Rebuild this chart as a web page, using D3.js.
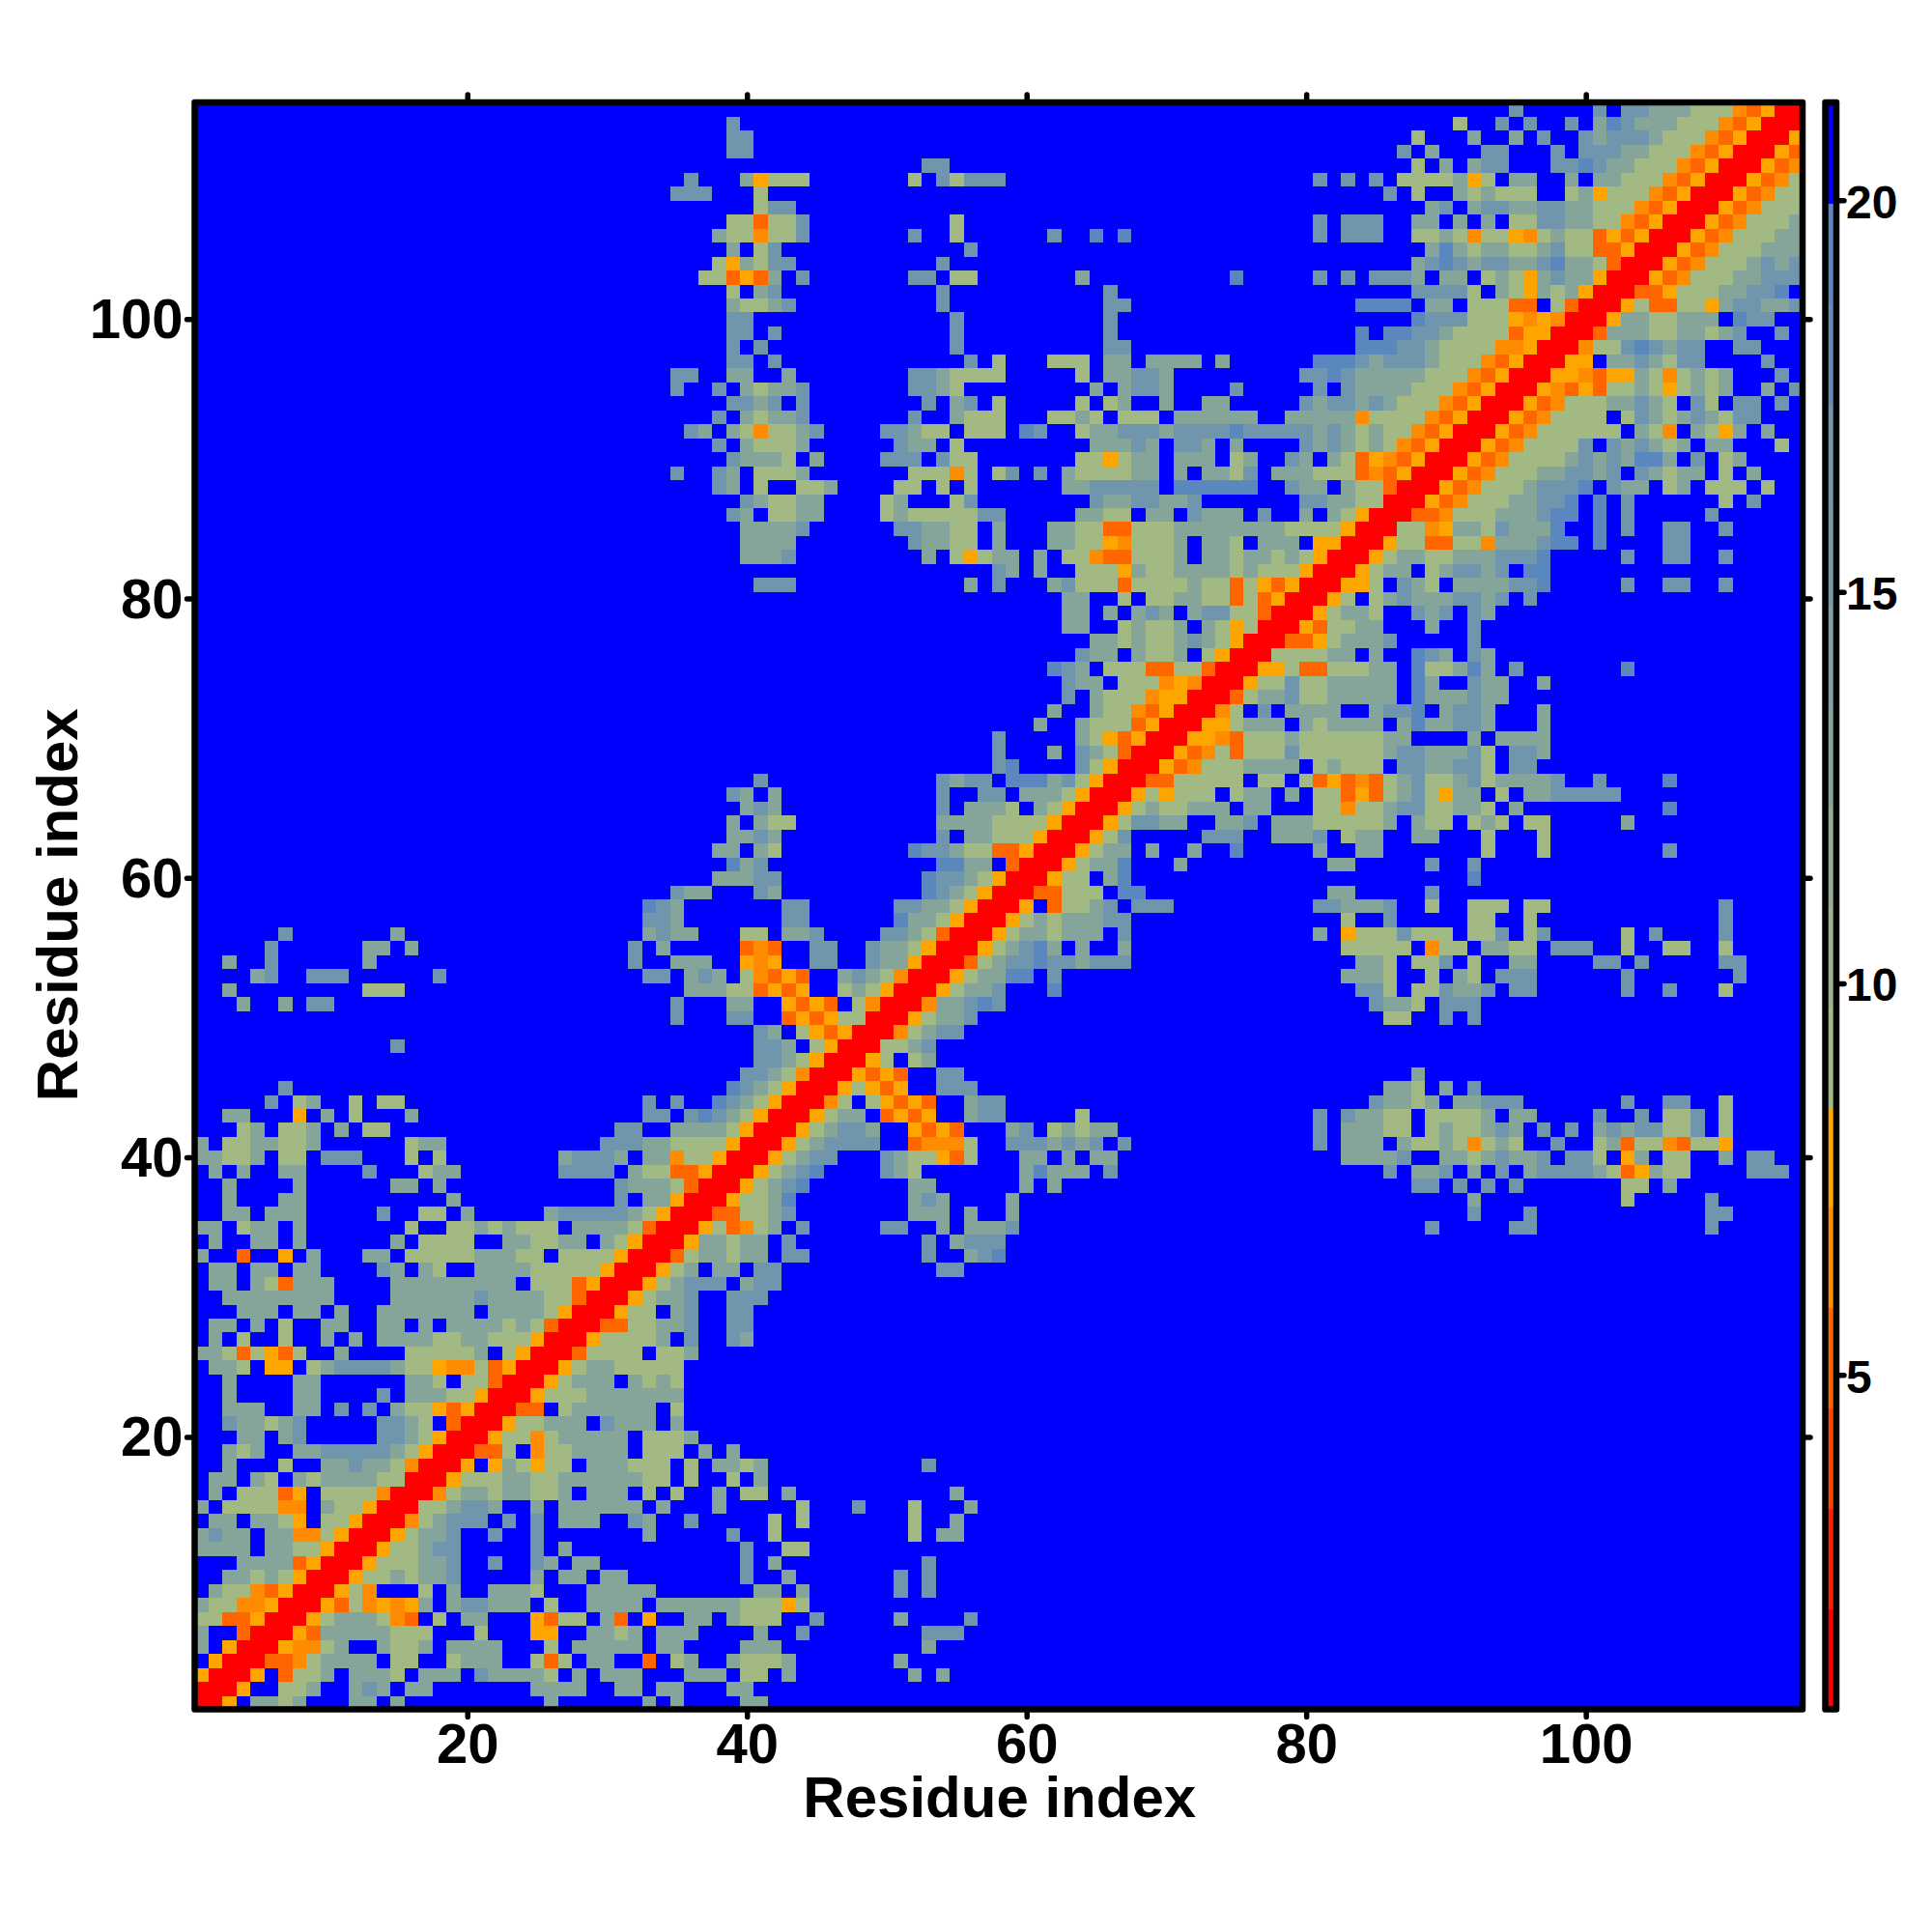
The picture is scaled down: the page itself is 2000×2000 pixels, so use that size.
<!DOCTYPE html>
<html><head><meta charset="utf-8">
<script src="https://cdn.jsdelivr.net/npm/d3@7"></script>
<style>html,body{margin:0;background:#fff}text{font-family:"Liberation Sans",Arial,sans-serif;font-weight:bold;fill:#000}</style>
</head><body><div id="chart"></div>
<script>
const residues = d3.range(1, 116);
const axisTicks = [20, 40, 60, 80, 100];
const barTicks = [5, 10, 15, 20];
const axisTitle = "Residue index";
const barBreaks = [2.01,3.29,4.58,5.86,7.14,8.42,9.70,10.99,12.27,13.55,14.83,16.11,17.4,18.68,19.96];
const barColors = ["#ff0000","#ff2200","#ff4400","#ff6600","#ff8c00","#ffa500","#a2b983","#9ab487","#91ad91","#86a59a","#7ea0a0","#759aa7","#6f96ad","#638db6","#5a87be","#0000ff"];
const barDomain = [0.73, 21.25];
const letterValues = {r:1.4, o:5.2, n:6.5, y:7.8, g:9.1, m:12.9, s:16.8, t:19.3, ".":21};
// each row: residue index on the y axis = position + 1; tokens "startX:letters"; the map is symmetric
const lowerRows = [
"1:r","1:rr","1:yrr","1:.yrr","1:m.yrr","1:m..orr","1:ggooyrr","1:mggnnyrr","1:.mggnoyrr","1:..mmgmgyrr",
"1:...mmmmoyrr","1:mmmm.mmggyrr","1:msmm.mmnngyrr","1:.mm.mmgy.ggyrr","1:m.ggggnn.mggyrr","1:.m.gggoy.ggggnrr",
"1:.mm.mg.mgmmmmggrr","1:..m...g..mmsmmgnrr","1:..mgm..mmsssssmgyrr","1:...mm.ms.....ssmgyrr","1:..smmgms.....ssmg.orr",
"1:..mmm..mm.s.s.mggyoyrr","1:..m....mm....s.mmmggyrr","1:..m....mm......mmg.ggorr","1:.mmg.yy.gmssssmggynngoyrr",
"1:mmgogyog..m....gggggm.gyrr","1:.m.g..g..m.m.mmmmggmmgggyrr","1:.mm.m.g..mm..mm.m.mmmmgmgorr",
"1:...mmm.mm.m..mmmmmmm.mmmmgyrr","1:..mmmmmmmm....mmmmmmsmmmmggorr","1:.mm.mgommm....mmmmmmmmm.gggoyrr",
"1:.mm.mm.mm....sm.mg..mmmmgggggyrr","1:m..o..y.m...mm.gggggmmmgg.ggggyrr","1:.m..mm.m......m.gggg..mmggmm.mgyrr",
"1:mm.gmm.m.......g..ggmgmggg.mmmmgorr","1:..mm.mmm.....s..gg.m.....msssssmgyrr","1:..m...mm..........m...........s.mmyrr",
"1:..m....m......mm.m............smmmgorr","1:.m.m..mm....s...gmm.......ssss.mggooyrr","1:mmggm.gg.sss...g.g........msssm.mmnggyrr",
"1:m.ggmmggm......gmm...........sssmmggggyrr","1:...gm.ggm.m.gg................ss..mmmmgyrr",
"1:..mm...y.m.g...m................ss.stsmgyrr","1:.....s.gm..g.gg.................s.s..tsmgyrr",
"7:s 39:tsmgyrr","40:ssmgnrr","41:ssmgyrr","15:s 41:ssm.gyrr","41:sm.gyoyrr","35:s 39:ss 43:oyoyggrr",
"4:m 7:m 9:ss 35:s 39:mm 43:yoyo.gnrr","3:m 13:ggg 36:mmmgg 41:oyoy 47:gmgyrr","5:ms 9:sss 18:s 33:ss 36:msm 40:gnoyo 47:msmgnrr",
"3:m 6:s 13:m 32:s 35:mmm 40:yny 45:ss 49:smmyrr","6:s 13:mm 16:m 32:s 34:m 40:ono 45:ss 49:smmgyrr",
"7:s 15:m 33:msmm 40:gg 43:mms 50:ssmgorr","33:ssm 43:ss 51:tmmgyrr","33:tsm 43:ss 51:ssmmgyrr","35:smm 41:sm 53:tsmgyrr",
"38:mmmss 53:tssmgyrr","39:tms 54:ttmm.orr","38:mm 41:mg 52:tssmggooyrr","39:mmsm 54:s.mmgggyrr","39:m.mgg 54:mmmmggggyrr",
"40:msm 54:s.mmmg.mgyrr","39:sm.m 54:s 57:ss 60:mmmgyrr","41:s 54:smss 59:tttmsgyrr","58:st 64:sgyrr","58:s 62:m 64:smgorr",
"58:s 64:mgyoyrr","61:m 64:mgggoyrr","62:m 65:mggnoyrr","63:s 65:mgggnyyrr","63:smm.gggnynrr","62:tsm.gggooggorr",
"64:smm.mggm.gyrr","65:mmgmggmsmgyrr","63:mm 67:gmggm.mgygrr","63:mm 66:m 68:msm 72:mssggorr","63:mm 67:g 69:ggmmggogoyrr",
"41:sss 56:m 58:s 62:msgggoggggmggogyoyrr","58:sm 61:m 64:gggymggmmmmgmgggyrr",
"40:mmms 53:m 55:gygmm 61:m 63:ggnoo 68:ggg 71:m 73:mm 75:g 76:mmgmgyrr",
"40:mmmm 52:smmgg 58:m 62:mmggyn 68:gggm 73:mmg 77:mmm.yyrr",
"40:mmmms 51:ssmmgg 58:m 62:mmggoo 68:ggg 71:mmmmm 76:mmmggggyrr",
"39:sm 42:ggmm 50:gm 52:ggggg 57:ss 64:mmgg 69:mm 72:smmm 77:s 80:m 82:mgyrr",
"40:sm 42:ggmm 50:gm 55:gs 65:smmss 70:mms 80:ssmmggrr",
"38:sm 41:g 44:ggm 51:gg 54:g 56:g 63:mmsssss 71:tttttt 79:smm.mggorr",
"35:s 38:sm 41:gggm 52:gggng 58:gs 61:s 63:mgggg 68:mm 71:m 73:mmgs 78:mmmgggonoyrr",
"39:smmmg 45:m 50:sss 54:sgg 64:ggyg 68:mm 71:mmm 75:gm 79:sm 82:mgoynoyrr",
"38:s 40:mgggm 51:smm 55:g 65:mmmsm 71:ssm 75:m 80:smsmgmgnoyrr",
"36:sm 39:mgnggms 50:ssmgg 56:ggg 60:ts 64:gmmsssmsssstsssssmsmgmggnoyrr",
"38:s 40:mgmms 52:s 55:mggg 62:ggmg 67:ggg 71:mmmmmm 79:mmmmmnggggnoyrr",
"39:ssms.s 53:s 55:ms 58:g 64:g 66:gm 70:m 73:mm 80:smssmsmgggnoyrr",
"35:s 38:s 40:mgmms 52:ssmg 65:m 67:mssm 75:s 81:s 83:smmmmgggnoyrr",
"35:ss 39:mm 43:m 52:ssmgggg 64:g 66:mmssm 80:sstsmmmmmgggnoyrr",
"39:ss 42:s 56:s 58:g 62:ggg 66:mm 69:mmmm 74:m 81:tttsmsssmgggnoyrr",
"39:s 41:s 55:s 66:ss 84:tttssmggggnnyrr",
"39:ss 42:s 55:s 66:s 84:t 86:ttssmggggoyyrr",
"39:ss 55:s 66:s 88:tsssgggynynrr",
"39:mggms 54:s 66:ss 84:tttt 89:mm 92:gggoo 98:gorr",
"39:g 41:ms 54:s 66:s 88:ssssg 94:mgymgmyrr",
"37:ggoyom.s 52:ss 55:gg 64:m 75:t 81:s 83:s 85:sssm 90:mm 93:gmgymsmmyrr",
"38:gymgss 54:s 88:ms 90:ts 92:mssmmstmmgorr",
"39:m.gs 56:s 89:mtmgmmggmsggooyrr",
"38:mggnggs 52:s 55:g 62:s 65:t 67:t 81:s 83:sss 88:ggmgnggyngmggoyoyrr",
"39:ggoggs 55:g 81:s 83:sss 88:mm 91:m 93:m 95:ggssmmggnoyrr",
"41:gss 89:ms 92:mssmmssmmgggnoyrr",
"35:sss 41:g 86:s 88:g 91:mgmggg 99:gmygggnoyrr",
"36:s 40:myggg 52:g 54:sgsss 81:s 83:s 85:s 87:ggggmyg 95:mm 99:m 101:mmgggnoyrr",
"53:ss 88:g 90:m 92:mss 98:sstsmmgggnoyrr",
"39:ss 87:s 89:m 93:ss 98:s 100:sssmmgggnoyrr",
"39:ss 88:g 92:m 95:m 97:s 100:smsssmgggnoyrr",
"39:s 91:g 94:s 96:s 99:s 101:mtsmmmgggnoyrr",
"95:s 101:s 103:ssmmmgggnoyrr"
];

const matrix = residues.map(() => residues.map(() => letterValues["."]));
lowerRows.forEach((row, yi) => {
  row.split(" ").forEach(tok => {
    const [start, letters] = tok.split(":");
    [...letters].forEach((c, k) => {
      const xi = +start - 1 + k;
      const v = letterValues[c];
      matrix[yi][xi] = v;
      matrix[xi][yi] = v;
    });
  });
});
const cells = [];
residues.forEach((y, yi) => residues.forEach((x, xi) => cells.push({x, y, v: matrix[yi][xi]})));

const svg = d3.select("#chart").append("svg").attr("width", 2000).attr("height", 2000).style("display", "block");
const L = 201.5, R = 1866, T = 106, B = 1769.5;
const x = d3.scaleLinear().domain([0.5, 115.5]).range([L, R]);
const y = d3.scaleLinear().domain([0.5, 115.5]).range([B, T]);
const color = d3.scaleThreshold().domain(barBreaks).range(barColors);

svg.append("g").attr("shape-rendering", "crispEdges").selectAll("rect").data(cells).join("rect")
  .attr("x", d => x(d.x - 0.5)).attr("y", d => y(d.y + 0.5))
  .attr("width", d => x(d.x + 0.5) - x(d.x - 0.5) + 0.5)
  .attr("height", d => y(d.y - 0.5) - y(d.y + 0.5) + 0.5)
  .attr("fill", d => color(d.v));

function styleAxis(g, size, dy) {
  g.select(".domain").remove();
  g.selectAll(".tick line").attr("stroke", "#000").attr("stroke-width", 5.5).attr("stroke-linecap", "round");
  g.selectAll(".tick text").style("font-size", size + "px").attr("transform", `translate(0,${dy || 0})`);
}
const fmt = d3.format("d");
svg.append("g").attr("transform", `translate(0,${B})`)
  .call(d3.axisBottom(x).tickValues(axisTicks).tickFormat(fmt).tickSize(8).tickPadding(6))
  .call(styleAxis, 58);
svg.append("g").attr("transform", `translate(${L},0)`)
  .call(d3.axisLeft(y).tickValues(axisTicks).tickFormat(fmt).tickSize(8).tickPadding(4))
  .call(styleAxis, 58, 1);
svg.append("g").attr("transform", `translate(0,${T})`)
  .call(d3.axisTop(x).tickValues(axisTicks).tickFormat("").tickSize(8)).call(styleAxis, 58);
svg.append("g").attr("transform", `translate(${R},0)`)
  .call(d3.axisRight(y).tickValues(axisTicks).tickFormat("").tickSize(8)).call(styleAxis, 58);

svg.append("rect").attr("x", L).attr("y", T).attr("width", R - L).attr("height", B - T)
  .attr("fill", "none").attr("stroke", "#000").attr("stroke-width", 6.5).attr("stroke-linejoin", "round");

svg.append("text").attr("x", (L + R) / 2 + 1).attr("y", 1881).attr("text-anchor", "middle").style("font-size", "60px").text(axisTitle);
svg.append("text").attr("transform", `translate(80,${(T + B) / 2 - 1}) rotate(-90)`).attr("text-anchor", "middle").style("font-size", "60px").text(axisTitle);

// colour bar
const barY = d3.scaleLinear().domain(barDomain).range([B, T]);
const barEdges = [barDomain[0], ...barBreaks, barDomain[1]];
const BL = 1889.5, BR = 1901;
svg.append("g").attr("shape-rendering", "crispEdges").selectAll("rect").data(barColors).join("rect")
  .attr("x", BL).attr("width", BR - BL)
  .attr("y", (d, i) => barY(barEdges[i + 1]))
  .attr("height", (d, i) => barY(barEdges[i]) - barY(barEdges[i + 1]) + 0.5)
  .attr("fill", d => d);
svg.append("rect").attr("x", BL).attr("y", T).attr("width", BR - BL).attr("height", B - T)
  .attr("fill", "none").attr("stroke", "#000").attr("stroke-width", 6.5).attr("stroke-linejoin", "round");
svg.append("g").attr("transform", `translate(${BR},0)`)
  .call(d3.axisRight(barY).tickValues(barTicks).tickFormat(fmt).tickSize(8).tickPadding(2))
  .call(styleAxis, 48, 2.5);
</script></body></html>
